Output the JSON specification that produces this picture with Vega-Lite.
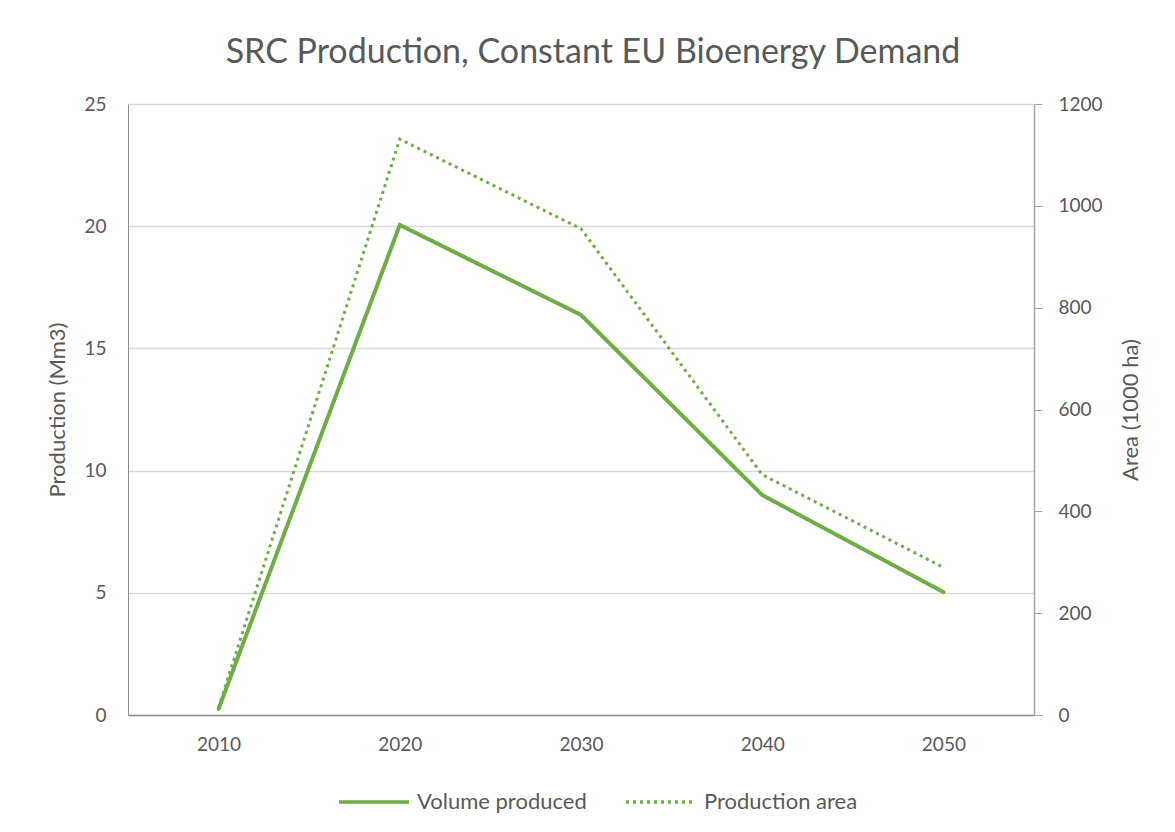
{
  "$schema": "https://vega.github.io/schema/vega-lite/v6.json",
  "width": 906,
  "height": 611,
  "autosize": {"type": "none"},
  "padding": {"left": 128, "top": 104, "right": 141, "bottom": 117},
  "background": "white",
  "title": {
    "text": "SRC Production, Constant EU Bioenergy Demand",
    "font": "Lato",
    "fontSize": 34,
    "fontWeight": "normal",
    "color": "#595959",
    "anchor": "middle",
    "dx": 12,
    "offset": 25
  },
  "data": {
    "values": [
      {"year": "2010", "volume": 0.25, "area": 15},
      {"year": "2020", "volume": 20.05, "area": 1131},
      {"year": "2030", "volume": 16.37, "area": 955},
      {"year": "2040", "volume": 9.0, "area": 472},
      {"year": "2050", "volume": 5.03, "area": 290}
    ]
  },
  "encoding": {
    "x": {
      "field": "year",
      "type": "ordinal",
      "scale": {"type": "point", "padding": 0.5},
      "axis": {
        "title": null,
        "labelAngle": 0,
        "ticks": false,
        "domainColor": "#8c8c8c",
        "domainWidth": 1.5,
        "labelPadding": 20,
        "grid": false
      }
    }
  },
  "layer": [
    {
      "mark": {"type": "line", "color": "#70AD47", "strokeWidth": 4, "strokeCap": "round", "strokeJoin": "miter"},
      "encoding": {
        "y": {
          "field": "volume",
          "type": "quantitative",
          "scale": {"domain": [0, 25], "nice": false},
          "axis": {
            "title": "Production (Mm3)",
            "values": [0, 5, 10, 15, 20, 25],
            "ticks": false,
            "grid": true,
            "gridColor": "#D9D9D9",
            "gridWidth": 1.5,
            "domainColor": "#8c8c8c",
            "labelPadding": 22,
            "titlePadding": 14
          }
        },
        "strokeDash": {"datum": "Volume produced"}
      }
    },
    {
      "mark": {"type": "line", "color": "#70AD47", "strokeWidth": 3, "strokeJoin": "miter"},
      "encoding": {
        "y": {
          "field": "area",
          "type": "quantitative",
          "scale": {"domain": [0, 1200], "nice": false},
          "axis": {
            "title": "Area (1000 ha)",
            "titleAngle": 270,
            "orient": "right",
            "format": "d",
            "values": [0, 200, 400, 600, 800, 1000, 1200],
            "ticks": true,
            "tickSize": 8,
            "tickColor": "#a6a6a6",
            "grid": false,
            "domainColor": "#a6a6a6",
            "domainWidth": 1.5,
            "labelPadding": 16,
            "titlePadding": 40
          }
        },
        "strokeDash": {
          "datum": "Production area",
          "scale": {
            "domain": ["Volume produced", "Production area"],
            "range": [[1, 0], [3, 4]]
          },
          "legend": {
            "title": null,
            "orient": "none",
            "legendX": 209,
            "legendY": 661,
            "direction": "horizontal",
            "symbolType": "stroke",
            "symbolSize": 4900,
            "symbolStrokeWidth": 3.5,
            "symbolStrokeColor": "#70AD47",
            "labelFontSize": 22,
            "labelLimit": 400,
            "labelColor": "#595959",
            "labelFont": "Lato",
            "labelOffset": 6,
            "columnPadding": 32
          }
        }
      }
    }
  ],
  "resolve": {"scale": {"y": "independent"}},
  "config": {
    "view": {"stroke": null},
    "axis": {
      "labelFont": "Lato",
      "titleFont": "Lato",
      "labelFontSize": 19,
      "titleFontSize": 22,
      "titleFontWeight": "normal",
      "labelColor": "#595959",
      "titleColor": "#595959"
    }
  }
}
